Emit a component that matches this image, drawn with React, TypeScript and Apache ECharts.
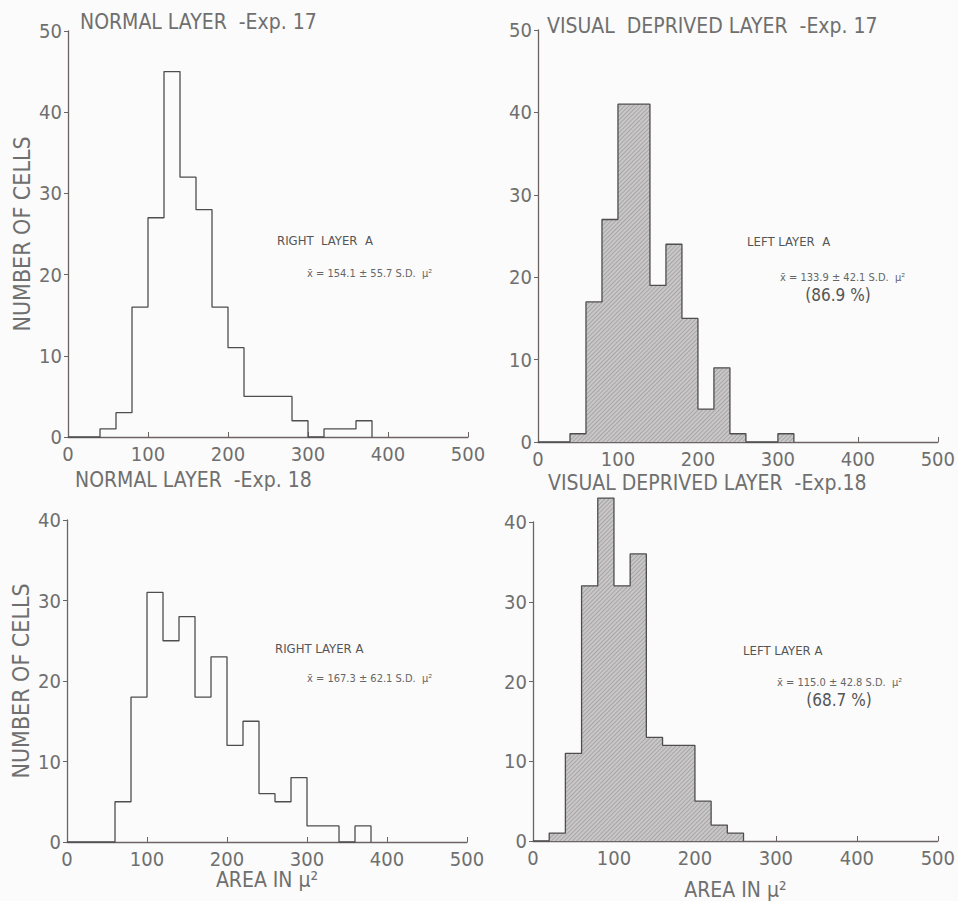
import React, { useEffect, useRef } from "react";
import * as echarts from "echarts";

// Histogram counts, bin width 20 µm², first bin starting at 0
const binWidth = 20;
const normal17 = [0, 0, 1, 3, 16, 27, 45, 32, 28, 16, 11, 5, 5, 5, 2, 0, 1, 1, 2];
const deprived17 = [0, 0, 1, 17, 27, 41, 41, 19, 24, 15, 4, 9, 1, 0, 0, 1];
const normal18 = [0, 0, 0, 5, 18, 31, 25, 28, 18, 23, 12, 15, 6, 5, 8, 2, 2, 0, 2];
const deprived18 = [0, 1, 11, 32, 43, 32, 36, 13, 12, 12, 5, 2, 1];

const titles = [
  "NORMAL LAYER  -Exp. 17",
  "VISUAL  DEPRIVED LAYER  -Exp. 17",
  "NORMAL LAYER  -Exp. 18",
  "VISUAL DEPRIVED LAYER  -Exp.18",
];
const layerLabels = ["RIGHT  LAYER  A", "LEFT LAYER  A", "RIGHT LAYER A", "LEFT LAYER A"];
const meanLabels = [
  "x̄ = 154.1 ± 55.7 S.D.  μ²",
  "x̄ = 133.9 ± 42.1 S.D.  μ²",
  "x̄ = 167.3 ± 62.1 S.D.  μ²",
  "x̄ = 115.0 ± 42.8 S.D.  μ²",
];
const percentLabels = ["", "(86.9 %)", "", "(68.7 %)"];
const yMaxes = [50, 50, 40, 40];

function stepData(counts: number[]) {
  const pts: number[][] = counts.map((c, i) => [i * binWidth, c]);
  pts.push([counts.length * binWidth, 0]);
  return pts;
}

const FONT = "'Liberation Sans Narrow', 'DejaVu Sans Condensed', 'Roboto', sans-serif";
const TXT = "#6f6f6f";
const AXIS = "#6d6363";
const LINE = "#4e4e4e";

export default function App() {
  const ref = useRef<HTMLDivElement>(null);
  useEffect(() => {
    if (!ref.current) return;
    const chart = echarts.init(ref.current, null, { renderer: "svg" });
    const grids = [
      { left: 68, top: 31, width: 400, height: 406 },
      { left: 538, top: 30, width: 405, height: 412 },
      { left: 67, top: 520, width: 400, height: 322 },
      { left: 533, top: 522, width: 406, height: 326 },
    ];
    const datasets = [normal17, deprived17, normal18, deprived18];
    const filled = [false, true, false, true];

    const xAxis = grids.map((_, i) => ({
      type: "value",
      gridIndex: i,
      min: 0,
      max: 500,
      interval: 100,
      splitLine: { show: false },
      axisLine: { lineStyle: { color: AXIS, width: 1.3 } },
      axisTick: { inside: true, length: 5, lineStyle: { color: AXIS } },
      axisLabel: { color: TXT, fontFamily: FONT, fontSize: 20, margin: 7 },
      name: i >= 2 ? "AREA IN μ²" : "",
      nameLocation: "middle",
      nameGap: i === 2 ? 22 : 38,
      nameTextStyle: { color: TXT, fontFamily: FONT, fontSize: 21 },
    }));
    const yAxis = grids.map((_, i) => ({
      type: "value",
      gridIndex: i,
      min: 0,
      max: yMaxes[i],
      interval: 10,
      splitLine: { show: false },
      axisLine: { show: true, lineStyle: { color: AXIS, width: 1.3 } },
      axisTick: { show: true, length: 4, lineStyle: { color: AXIS } },
      axisLabel: {
        color: TXT,
        fontFamily: FONT,
        fontSize: 20,
        margin: 6,
        verticalAlign: "middle",
        padding: [0, 0, 10, 0],
      },
      name: i === 0 || i === 2 ? "NUMBER OF CELLS" : "",
      nameLocation: "middle",
      nameRotate: 90,
      nameGap: 35,
      nameTextStyle: { color: TXT, fontFamily: FONT, fontSize: 23 },
    }));

    const series = datasets.map((d, i) => ({
      type: "line",
      xAxisIndex: i,
      yAxisIndex: i,
      step: "end",
      symbol: "none",
      clip: false,
      data: stepData(d),
      lineStyle: { color: LINE, width: 1.3 },
      itemStyle: filled[i]
        ? {
            color: LINE,
            decal: {
              symbol: "rect",
              symbolSize: 1,
              dashArrayX: [1, 0],
              dashArrayY: [1, 2],
              rotation: -Math.PI / 4,
              color: "rgba(90,90,90,0.3)",
            },
          }
        : { color: LINE },
      areaStyle: filled[i] ? { color: "#c9c7c7", opacity: 1 } : undefined,
    }));

    const titlePos = [
      [80, 22],
      [547, 26],
      [75, 480],
      [548, 483],
    ];
    const layerPos = [
      [277, 240],
      [747, 241],
      [275, 648],
      [743, 650],
    ];
    const meanPos = [
      [307, 273],
      [780, 277],
      [307, 678],
      [777, 682],
    ];
    const pctPos = [
      [0, 0],
      [838, 295],
      [0, 0],
      [839, 700],
    ];
    const graphic: any[] = [];
    for (let i = 0; i < 4; i++) {
      graphic.push({
        type: "text",
        x: titlePos[i][0],
        y: titlePos[i][1],
        style: {
          text: titles[i],
          fill: TXT,
          font: `21px ${FONT}`,
          textVerticalAlign: "middle",
        },
      });
      graphic.push({
        type: "text",
        x: layerPos[i][0],
        y: layerPos[i][1],
        style: {
          text: layerLabels[i],
          fill: "#555",
          font: `13px ${FONT}`,
          textVerticalAlign: "middle",
        },
      });
      graphic.push({
        type: "text",
        x: meanPos[i][0],
        y: meanPos[i][1],
        style: {
          text: meanLabels[i],
          fill: "#666",
          font: `11px ${FONT}`,
          textVerticalAlign: "middle",
        },
      });
      if (percentLabels[i]) {
        graphic.push({
          type: "text",
          x: pctPos[i][0],
          y: pctPos[i][1],
          style: {
            text: percentLabels[i],
            fill: "#555",
            font: `17px ${FONT}`,
            textAlign: "center",
            textVerticalAlign: "middle",
          },
        });
      }
    }

    chart.setOption({
      animation: false,
      backgroundColor: "#fbfbfb",
      grid: grids,
      xAxis,
      yAxis,
      series,
      graphic,
    });
    return () => chart.dispose();
  }, []);
  return (
    <div
      ref={ref}
      style={{ position: "absolute", left: 0, top: 0, width: 958, height: 901 }}
    />
  );
}
